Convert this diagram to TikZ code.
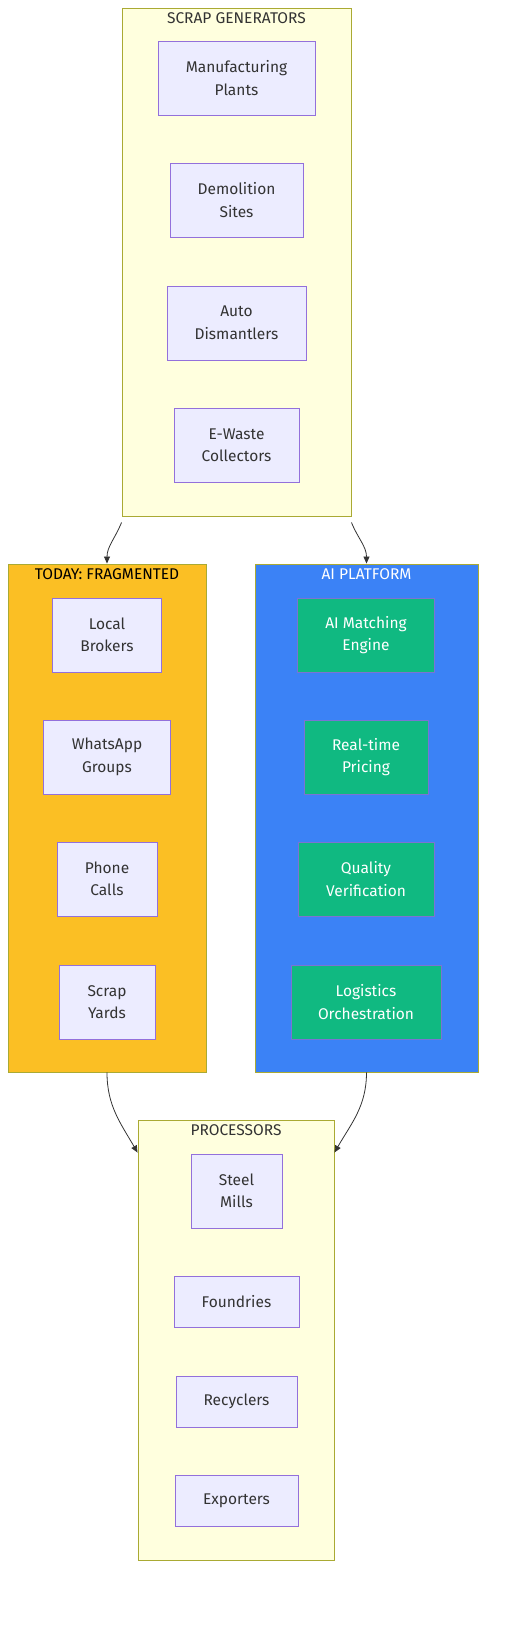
\documentclass[tikz,border=0pt]{standalone}
\usepackage{fontspec}
\setmainfont{Fira Sans}
\usetikzlibrary{calc}
\usetikzlibrary{arrows.meta}
\usetikzlibrary{backgrounds}

\definecolor{clfill}{HTML}{FFFFDE}
\definecolor{clline}{HTML}{AAAA33}
\definecolor{ndfill}{HTML}{ECECFF}
\definecolor{ndline}{HTML}{9370DB}
\definecolor{ndtext}{HTML}{333333}
\definecolor{amber}{HTML}{FBBF24}
\definecolor{azure}{HTML}{3B82F6}
\definecolor{emerald}{HTML}{10B981}
\definecolor{emline}{HTML}{7B73D3}

\tikzset{
    box/.style={rectangle, draw=ndline, fill=ndfill, text=ndtext, align=center, line width=0.9pt,
        font=\fontsize{15.5}{22.5}\selectfont},
    aibox/.style={box, draw=emline, fill=emerald, text=white},
    cluster/.style={rectangle, draw=clline, fill=clfill, line width=0.9pt},
    title/.style={below, inner sep=0pt, text=ndtext, font=\fontsize{15.5}{18}\selectfont},
    arr/.style={-{Triangle[length=7pt,width=6pt]}, draw=ndtext, line width=0.8pt}
}

\begin{document}
\begin{tikzpicture}[x=1pt, y=-1pt]
    \useasboundingbox (0,0) rectangle (508,1640);

    % subgraphs
    \node (CG) at (236.5,262) [cluster, minimum width=229, minimum height=508] {};
    \node at ([yshift=-5]CG.north) [title] {SCRAP GENERATORS};
    \node (CT) at (107,818) [cluster, fill=amber, minimum width=198, minimum height=508] {};
    \node at ([yshift=-5]CT.north) [title, text=black] {TODAY: FRAGMENTED};
    \node (CA) at (366.5,818) [cluster, fill=azure, minimum width=223, minimum height=508] {};
    \node at ([yshift=-5]CA.north) [title, text=white] {AI PLATFORM};
    \node (CP) at (236,1340) [cluster, minimum width=196, minimum height=440] {};
    \node at ([yshift=-5]CP.north) [title] {PROCESSORS};

    % generators
    \node (G1) at (236.5,78) [box, minimum width=157, minimum height=74] {Manufacturing\\Plants};
    \node (G2) at (236.5,200) [box, minimum width=133, minimum height=74] {Demolition\\Sites};
    \node (G3) at (236.5,323) [box, minimum width=139, minimum height=74] {Auto\\Dismantlers};
    \node (G4) at (236.5,445) [box, minimum width=125, minimum height=74] {E-Waste\\Collectors};

    % today
    \node (T1) at (107,635) [box, minimum width=109, minimum height=74] {Local\\Brokers};
    \node (T2) at (107,757) [box, minimum width=127, minimum height=74] {WhatsApp\\Groups};
    \node (T3) at (107,879) [box, minimum width=100, minimum height=74] {Phone\\Calls};
    \node (T4) at (107,1002) [box, minimum width=96, minimum height=74] {Scrap\\Yards};

    % ai platform
    \node (A1) at (366,635) [aibox, minimum width=137, minimum height=74] {AI Matching\\Engine};
    \node (A2) at (366,757) [aibox, minimum width=124, minimum height=74] {Real-time\\Pricing};
    \node (A3) at (366,879) [aibox, minimum width=136, minimum height=74] {Quality\\Verification};
    \node (A4) at (366,1002) [aibox, minimum width=150, minimum height=74] {Logistics\\Orchestration};

    % processors
    \node (P1) at (236.5,1191) [box, minimum width=91, minimum height=74] {Steel\\Mills};
    \node (P2) at (236.5,1301.5) [box, minimum width=125, minimum height=51] {Foundries};
    \node (P3) at (236.5,1401.5) [box, minimum width=121, minimum height=51] {Recyclers};
    \node (P4) at (236.5,1500.5) [box, minimum width=123, minimum height=51] {Exporters};

    \draw [arr] ([yshift=-6]CG.south west) to[out=-112, in=90] (CT.north);
    \draw [arr] ([yshift=-6]CG.south east) to[out=-68, in=90] (CA.north);
    \draw [arr] (CT.south) to[out=-90, in=120] ([yshift=-33]CP.north west);
    \draw [arr] (CA.south) to[out=-90, in=60] ([yshift=-33]CP.north east);

\end{tikzpicture}
\end{document}
